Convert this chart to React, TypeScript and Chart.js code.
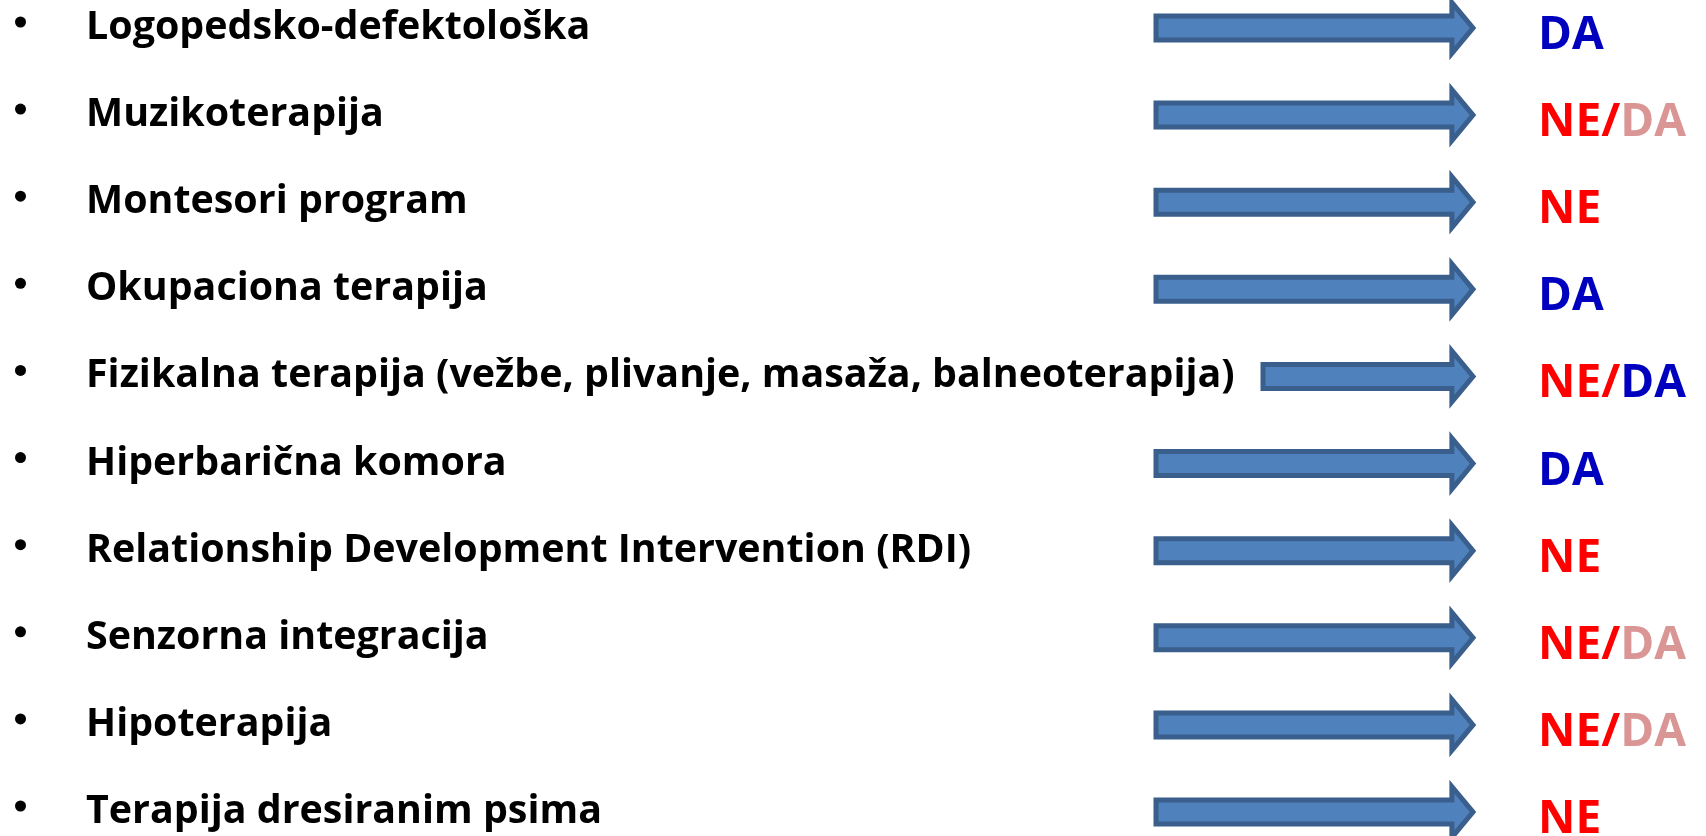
import React, { useEffect, useRef } from "react";
import { Chart, registerables } from "chart.js";

Chart.register(...registerables);

// ---- data ----
const therapies: string[] = [
  "Logopedsko-defektološka",
  "Muzikoterapija",
  "Montesori program",
  "Okupaciona terapija",
  "Fizikalna terapija (vežbe, plivanje, masaža, balneoterapija)",
  "Hiperbarična komora",
  "Relationship Development Intervention (RDI)",
  "Senzorna integracija",
  "Hipoterapija",
  "Terapija dresiranim psima",
];

// main verdict of each row
const verdictMain: string[] = ["DA", "NE", "NE", "DA", "NE", "DA", "NE", "NE", "NE", "NE"];
// optional second verdict after the slash, with its tone
const verdictSecond: (string | null)[] = [null, "DA", null, null, "DA", null, null, "DA", "DA", null];
const verdictSecondTone: (string | null)[] = [null, "weak", null, null, "strong", null, null, "weak", "weak", null];

// arrows (slide x units, 0..1706)
const arrowStart: number[] = [1156, 1156, 1156, 1156, 1263, 1156, 1156, 1156, 1156, 1156];
const arrowEnd: number[] = [1473, 1473, 1473, 1473, 1473, 1473, 1473, 1473, 1473, 1473];

// ---- styles ----
const COLORS = {
  DA: "#0000BF",
  NE: "#FF0000",
  weak: "#D99694",
  strong: "#0000BF",
  arrowFill: "#4F81BD",
  arrowStroke: "#3A5F8C",
  text: "#000000",
};
const LIST_FONT = "bold 39.4px 'Open Sans'";
const LABEL_FONT = "bold 46px 'Open Sans'";
const SLIDE_W = 1706;
const SLIDE_H = 836;

const slidePlugin = {
  id: "slidePlugin",
  afterDatasetsDraw(chart: any) {
    const ctx: CanvasRenderingContext2D = chart.ctx;
    const xS = chart.scales.x;
    const yS = chart.scales.y;
    const meta = chart.getDatasetMeta(0);

    // arrows built from the floating bar elements
    meta.data.forEach((el: any) => {
      const p = el.getProps(["x", "y", "base", "height"], true);
      const b = Math.min(p.base, p.x);
      const t = Math.max(p.base, p.x);
      const cy = p.y;
      const h = p.height;
      const sh = h / 2;
      const hh = h * 1.06;
      const hl = h * 0.88;
      ctx.save();
      ctx.beginPath();
      ctx.moveTo(b, cy - sh);
      ctx.lineTo(t - hl, cy - sh);
      ctx.lineTo(t - hl, cy - hh);
      ctx.lineTo(t, cy);
      ctx.lineTo(t - hl, cy + hh);
      ctx.lineTo(t - hl, cy + sh);
      ctx.lineTo(b, cy + sh);
      ctx.closePath();
      ctx.fillStyle = COLORS.arrowFill;
      ctx.fill();
      ctx.lineWidth = 5;
      ctx.lineJoin = "miter";
      ctx.strokeStyle = COLORS.arrowStroke;
      ctx.stroke();
      ctx.restore();
    });

    therapies.forEach((label, i) => {
      const y = yS.getPixelForValue(i);
      ctx.save();
      // bullet
      ctx.fillStyle = COLORS.text;
      ctx.beginPath();
      ctx.arc(xS.getPixelForValue(20.5), y - 6, 5.5, 0, Math.PI * 2);
      ctx.fill();
      // list text
      ctx.font = LIST_FONT;
      ctx.textBaseline = "alphabetic";
      ctx.textAlign = "left";
      ctx.fillText(label, xS.getPixelForValue(86), y + 11);
      // verdict
      ctx.font = LABEL_FONT;
      let x = xS.getPixelForValue(1538);
      const by = y + 21;
      const main = verdictMain[i];
      ctx.fillStyle = COLORS[main as "DA" | "NE"];
      ctx.fillText(main, x, by);
      x += ctx.measureText(main).width;
      const second = verdictSecond[i];
      if (second) {
        ctx.fillStyle = COLORS[main as "DA" | "NE"];
        ctx.fillText("/", x, by);
        x += ctx.measureText("/").width;
        ctx.fillStyle = COLORS[(verdictSecondTone[i] || "strong") as "weak" | "strong"];
        ctx.fillText(second, x, by);
      }
      ctx.restore();
    });
  },
};

export default function App() {
  const ref = useRef<HTMLCanvasElement | null>(null);
  useEffect(() => {
    document.body.style.margin = "0";
    const canvas = ref.current;
    if (!canvas) return;
    const chart = new Chart(canvas, {
      type: "bar",
      data: {
        labels: therapies,
        datasets: [
          {
            label: "arrows",
            data: arrowStart.map((s, i) => [s, arrowEnd[i]]) as any,
            backgroundColor: "rgba(0,0,0,0)",
            borderWidth: 0,
            barThickness: 24,
          },
        ],
      },
      options: {
        indexAxis: "y",
        animation: false,
        responsive: false,
        maintainAspectRatio: false,
        events: [],
        layout: { padding: { top: 28, bottom: 24, left: 0, right: 0 } },
        plugins: { legend: { display: false }, tooltip: { enabled: false } },
        scales: {
          x: { type: "linear", min: 0, max: SLIDE_W, display: false },
          y: { type: "category", offset: false, display: false, grid: { offset: false } },
        },
      },
      plugins: [slidePlugin],
    });
    return () => chart.destroy();
  }, []);
  return (
    <div style={{ width: SLIDE_W, height: SLIDE_H, background: "#fff" }}>
      <canvas ref={ref} width={SLIDE_W} height={SLIDE_H} style={{ display: "block" }} />
    </div>
  );
}
